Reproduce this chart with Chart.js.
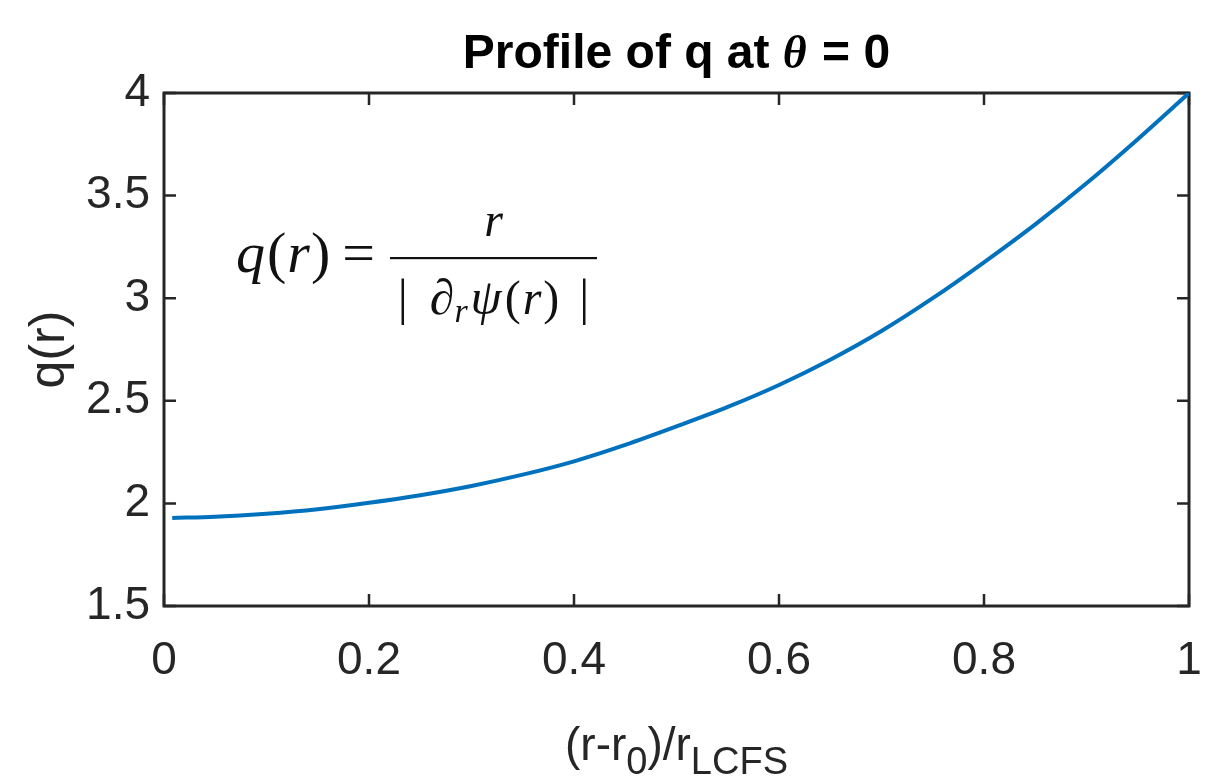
<!DOCTYPE html>
<html>
<head>
<meta charset="utf-8">
<script src="https://cdn.jsdelivr.net/npm/chart.js@4.4.1/dist/chart.umd.min.js"></script>
<style>
    html, body { margin: 0; padding: 0; background: #fff; }
    #wrap { width: 1205px; height: 782px; }
</style>
</head>
<body>
<div id="wrap"><canvas id="qChart" width="1205" height="782"></canvas></div>
<script>
// values
const rNorm = [0.008, 0.05, 0.1, 0.15, 0.2, 0.25, 0.3, 0.35, 0.4, 0.45, 0.5,
               0.55, 0.6, 0.65, 0.7, 0.75, 0.8, 0.85, 0.9, 0.95, 1.0];
const qProfile = [1.929, 1.935, 1.950, 1.972, 2.003, 2.040, 2.085, 2.140, 2.205, 2.285, 2.375,
                  2.470, 2.577, 2.700, 2.840, 3.000, 3.175, 3.360, 3.560, 3.775, 4.0];
const xTicks = [0, 0.2, 0.4, 0.6, 0.8, 1];
const yTicks = [1.5, 2, 2.5, 3, 3.5, 4];

const AXIS_COLOR = '#262626';
const SANS = '"Liberation Sans", Arial, Helvetica, sans-serif';
const SERIF = '"Liberation Serif", "Times New Roman", serif';

// draws a run of text pieces left to right, each with its own font / offset
function drawRun(ctx, x, y, pieces) {
    pieces.forEach(p => {
        ctx.font = p.font;
        ctx.fillText(p.text, x, y + (p.dy || 0));
        x += ctx.measureText(p.text).width + (p.gap || 0);
    });
    return x;
}

function runWidth(ctx, pieces) {
    let w = 0;
    pieces.forEach(p => {
        ctx.font = p.font;
        w += ctx.measureText(p.text).width + (p.gap || 0);
    });
    return w;
}

// MATLAB style box with inward ticks
const matlabFrame = {
    id: 'matlabFrame',
    beforeDatasetsDraw(chart) {
        const { ctx, chartArea: a, scales: { x, y } } = chart;
        const len = 12;
        ctx.save();
        ctx.strokeStyle = AXIS_COLOR;
        ctx.lineWidth = 2.5;
        ctx.beginPath();
        xTicks.forEach(v => {
            const px = x.getPixelForValue(v);
            ctx.moveTo(px, a.bottom); ctx.lineTo(px, a.bottom - len);
            ctx.moveTo(px, a.top); ctx.lineTo(px, a.top + len);
        });
        yTicks.forEach(v => {
            const py = y.getPixelForValue(v);
            ctx.moveTo(a.left, py); ctx.lineTo(a.left + len, py);
            ctx.moveTo(a.right, py); ctx.lineTo(a.right - len, py);
        });
        ctx.stroke();
        ctx.lineWidth = 3;
        ctx.strokeRect(a.left, a.top, a.right - a.left, a.bottom - a.top);
        ctx.restore();
    }
};

// title, axis labels and the formula annotation
const textLayer = {
    id: 'textLayer',
    afterDraw(chart) {
        const { ctx, chartArea: a } = chart;
        const cx = (a.left + a.right) / 2;
        ctx.save();
        ctx.textBaseline = 'alphabetic';
        ctx.textAlign = 'left';

        // title
        ctx.fillStyle = '#000';
        const title = [
            { text: 'Profile of q at ', font: `bold 48px ${SANS}` },
            { text: 'θ', font: `italic bold 46px ${SERIF}`, gap: 2 },
            { text: ' = 0', font: `bold 48px ${SANS}` }
        ];
        drawRun(ctx, cx - runWidth(ctx, title) / 2, 68, title);

        // x label with subscripts
        ctx.fillStyle = AXIS_COLOR;
        const xl = [
            { text: '(r-r', font: `46px ${SANS}` },
            { text: '0', font: `38px ${SANS}`, dy: 14 },
            { text: ')/r', font: `46px ${SANS}` },
            { text: 'LCFS', font: `38px ${SANS}`, dy: 14 }
        ];
        drawRun(ctx, cx - runWidth(ctx, xl) / 2, 760, xl);

        // y label
        ctx.save();
        ctx.translate(64, (a.top + a.bottom) / 2);
        ctx.rotate(-Math.PI / 2);
        ctx.textAlign = 'center';
        ctx.font = `50px ${SANS}`;
        ctx.fillText('q(r)', 0, 0);
        ctx.restore();

        // formula q(r) = r / | d_r psi(r) |
        ctx.fillStyle = '#111';
        const lhs = [
            { text: 'q', font: `italic 58px ${SERIF}`, gap: 2 },
            { text: '(', font: `58px ${SERIF}`, gap: 1 },
            { text: 'r', font: `italic 58px ${SERIF}`, gap: 1 },
            { text: ')', font: `58px ${SERIF}`, gap: 12 },
            { text: '=', font: `58px ${SERIF}` }
        ];
        drawRun(ctx, 236, 272, lhs);

        const fracLeft = 390, fracRight = 597, fracY = 258;
        ctx.fillRect(fracLeft, fracY - 1, fracRight - fracLeft, 2.2);

        const num = [{ text: 'r', font: `italic 48px ${SERIF}` }];
        drawRun(ctx, (fracLeft + fracRight) / 2 - runWidth(ctx, num) / 2, 236, num);

        const den = [
            { text: '|', font: `50px ${SERIF}`, gap: 22 },
            { text: '∂', font: `italic 50px ${SERIF}` },
            { text: 'r', font: `italic 34px ${SERIF}`, dy: 8, gap: 3 },
            { text: 'ψ', font: `italic 50px ${SERIF}`, gap: 3 },
            { text: '(', font: `48px ${SERIF}`, gap: 2 },
            { text: 'r', font: `italic 48px ${SERIF}`, gap: 2 },
            { text: ')', font: `48px ${SERIF}`, gap: 20 },
            { text: '|', font: `50px ${SERIF}` }
        ];
        drawRun(ctx, (fracLeft + fracRight) / 2 - runWidth(ctx, den) / 2, 314, den);

        ctx.restore();
    }
};

const tickLabel = v => String(v);

const ctx = document.getElementById('qChart').getContext('2d');
const qChart = new Chart(ctx, {
    type: 'line',
    data: {
        datasets: [{
            data: rNorm.map((r, i) => ({ x: r, y: qProfile[i] })),
            borderColor: '#0072BD',
            borderWidth: 4,
            pointRadius: 0,
            fill: false,
            cubicInterpolationMode: 'monotone'
        }]
    },
    options: {
        responsive: false,
        animation: false,
        layout: { padding: { top: 93, right: 16, bottom: 0, left: 0 } },
        plugins: {
            legend: { display: false },
            tooltip: { enabled: false },
            title: { display: false }
        },
        scales: {
            x: {
                type: 'linear',
                min: 0,
                max: 1,
                afterBuildTicks: s => { s.ticks = xTicks.map(v => ({ value: v })); },
                afterFit: s => { s.height = 176; s.paddingLeft = 0; s.paddingRight = 0; },
                grid: { display: false, drawTicks: false },
                border: { display: false },
                ticks: {
                    color: AXIS_COLOR,
                    padding: 28,
                    maxRotation: 0,
                    callback: tickLabel,
                    font: { family: SANS, size: 46 }
                }
            },
            y: {
                min: 1.5,
                max: 4,
                afterBuildTicks: s => { s.ticks = yTicks.map(v => ({ value: v })); },
                afterFit: s => { s.width = 164; s.paddingTop = 0; s.paddingBottom = 0; },
                grid: { display: false, drawTicks: false },
                border: { display: false },
                ticks: {
                    color: AXIS_COLOR,
                    padding: 14,
                    callback: tickLabel,
                    font: { family: SANS, size: 46 }
                }
            }
        }
    },
    plugins: [matlabFrame, textLayer]
});
</script>
</body>
</html>
